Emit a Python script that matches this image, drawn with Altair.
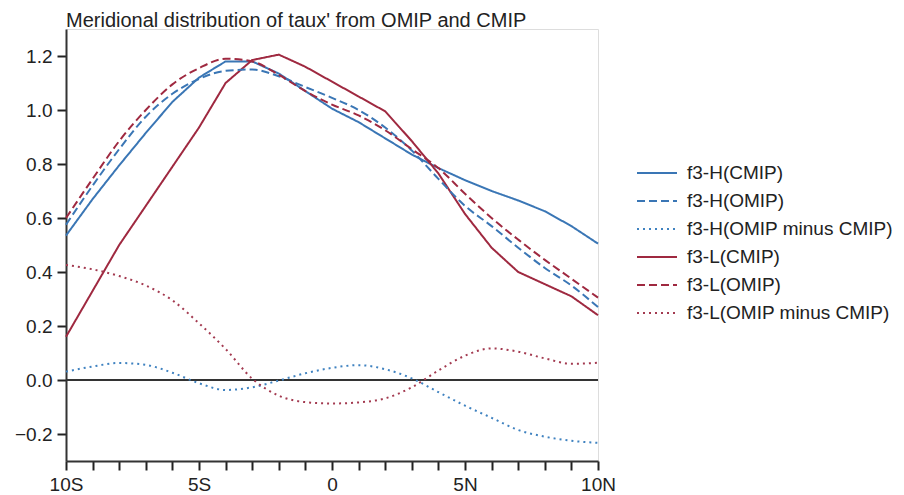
import altair as alt
import pandas as pd

lat = list(range(-10, 11))

h_cmip = [0.535, 0.67, 0.795, 0.915, 1.03, 1.12, 1.18, 1.18, 1.135, 1.07, 1.005,
          0.955, 0.895, 0.835, 0.785, 0.74, 0.70, 0.665, 0.625, 0.57, 0.505]
h_omip = [0.575, 0.72, 0.855, 0.975, 1.06, 1.115, 1.145, 1.15, 1.125, 1.085, 1.045,
          1.0, 0.935, 0.85, 0.745, 0.645, 0.57, 0.49, 0.415, 0.35, 0.27]
h_diff = [0.031, 0.05, 0.063, 0.056, 0.027, -0.012, -0.037, -0.027, -0.002, 0.025, 0.045,
          0.055, 0.04, 0.006, -0.045, -0.095, -0.14, -0.185, -0.21, -0.225, -0.233]
l_cmip = [0.16, 0.33, 0.50, 0.645, 0.79, 0.935, 1.10, 1.185, 1.205, 1.16, 1.105,
          1.05, 0.995, 0.885, 0.765, 0.615, 0.49, 0.40, 0.355, 0.31, 0.24]
l_omip = [0.60, 0.745, 0.885, 1.0, 1.095, 1.155, 1.19, 1.18, 1.13, 1.07, 1.02,
          0.98, 0.925, 0.855, 0.785, 0.69, 0.60, 0.52, 0.445, 0.375, 0.305]
l_diff = [0.426, 0.41, 0.385, 0.35, 0.295, 0.21, 0.115, 0.005, -0.058, -0.082, -0.087,
          -0.083, -0.068, -0.027, 0.035, 0.09, 0.117, 0.105, 0.08, 0.06, 0.064]

series_names = ["f3-H(CMIP)", "f3-H(OMIP)", "f3-H(OMIP minus CMIP)",
                "f3-L(CMIP)", "f3-L(OMIP)", "f3-L(OMIP minus CMIP)"]
series_values = [h_cmip, h_omip, h_diff, l_cmip, l_omip, l_diff]
series_colors = ["#3a76b5", "#3a76b5", "#3f82c0", "#9f2940", "#9f2940", "#a33a50"]
series_dashes = [[1, 0], [8, 4], [2, 4], [1, 0], [8, 4], [2, 4]]

y_ticks = [-0.2, 0.0, 0.2, 0.4, 0.6, 0.8, 1.0, 1.2]

rows = []
for name, vals in zip(series_names, series_values):
    for x, v in zip(lat, vals):
        rows.append({"lat": x, "taux": v, "series": name,
                     "solid": name.endswith("(CMIP)")})
df = pd.DataFrame(rows)

FONT = "Liberation Sans"

x_enc = alt.X("lat:Q",
              scale=alt.Scale(domain=[-10, 10], nice=False, zero=False),
              axis=alt.Axis(values=lat, title=None, grid=False,
                            labelExpr="datum.value == 0 ? '0' : (datum.value % 5 != 0 ? '' : (datum.value < 0 ? (-datum.value) + 'S' : datum.value + 'N'))",
                            labelFlush=False, labelOverlap=False, labelBound=False,
                            tickSize=9, tickWidth=2, tickColor="#222",
                            domainColor="#333", domainWidth=2,
                            labelFontSize=19, labelFont=FONT, labelColor="#222",
                            labelPadding=5))
y_enc = alt.Y("taux:Q",
              scale=alt.Scale(domain=[-0.3, 1.3], nice=False, zero=False),
              axis=alt.Axis(values=y_ticks, format=".1f", title=None, grid=False,
                            tickSize=9, tickWidth=2, tickColor="#222",
                            domainColor="#333", domainWidth=2,
                            labelFontSize=19, labelFont=FONT, labelColor="#222",
                            labelPadding=5))

legend = alt.Legend(title=None, orient="none", legendX=570, legendY=134,
                    symbolType="stroke", symbolSize=1600, symbolStrokeWidth=2,
                    labelFontSize=19, labelFont=FONT, labelColor="#222",
                    labelOffset=9, clipHeight=20, rowPadding=8, labelLimit=400,
                    padding=0)

color_enc = alt.Color("series:N", scale=alt.Scale(domain=series_names, range=series_colors),
                      legend=legend)
dash_enc = alt.StrokeDash("series:N", scale=alt.Scale(domain=series_names, range=series_dashes),
                          legend=legend)

base = alt.Chart(df)

zero_line = base.mark_rule(color="#333", strokeWidth=2).encode(
    y=alt.datum(0.0)
)

solid_lines = base.transform_filter("datum.solid").mark_line(
    strokeWidth=2, interpolate="linear").encode(
    x=x_enc, y=y_enc, color=color_enc, strokeDash=dash_enc, detail="series:N")

other_lines = base.transform_filter("!datum.solid").mark_line(
    strokeWidth=2, interpolate="monotone").encode(
    x=x_enc, y=y_enc, color=color_enc, strokeDash=dash_enc, detail="series:N")

chart = alt.layer(zero_line, solid_lines, other_lines).properties(
    width=532, height=432,
    padding={"left": 6, "top": 3, "right": 0, "bottom": 0},
    title=alt.TitleParams("Meridional distribution of taux' from OMIP and CMIP",
                          anchor="start", frame="group", fontSize=20, font=FONT,
                          fontWeight="normal", color="#222", offset=-2),
).configure_view(stroke="#555", strokeWidth=2).configure(background="white")

chart.save("out.html", embed_options={"renderer": "svg", "actions": False})
